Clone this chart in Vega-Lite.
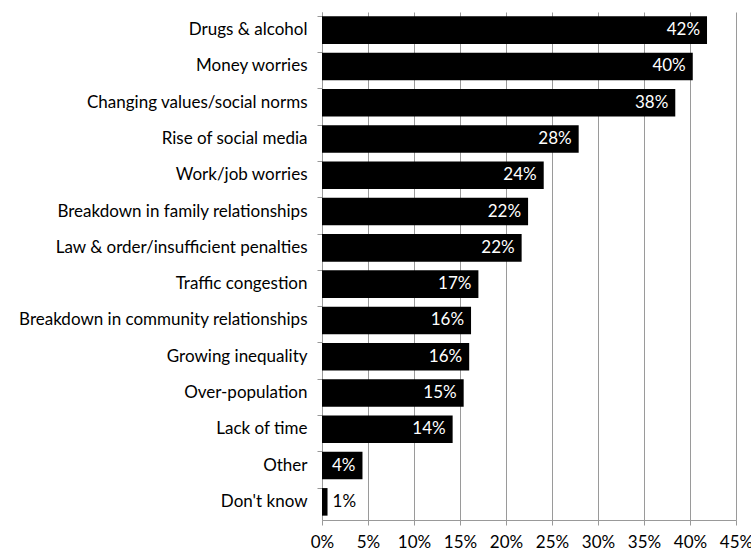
{
  "$schema": "https://vega.github.io/schema/vega-lite/v6.json",
  "autosize": {"type": "none"},
  "padding": {"left": 322, "top": 12, "right": 15, "bottom": 28},
  "width": 414,
  "height": 508,
  "background": "white",
  "config": {
    "view": {"stroke": null},
    "font": "Lato",
    "axis": {"labelFont": "Lato", "labelColor": "#000000", "labelFontSize": 17}
  },
  "data": {
    "values": [
      {"reason": "Drugs & alcohol", "value": 0.4185},
      {"reason": "Money worries", "value": 0.403},
      {"reason": "Changing values/social norms", "value": 0.384},
      {"reason": "Rise of social media", "value": 0.279},
      {"reason": "Work/job worries", "value": 0.241},
      {"reason": "Breakdown in family relationships", "value": 0.224},
      {"reason": "Law & order/insufficient penalties", "value": 0.217},
      {"reason": "Traffic congestion", "value": 0.170},
      {"reason": "Breakdown in community relationships", "value": 0.162},
      {"reason": "Growing inequality", "value": 0.160},
      {"reason": "Over-population", "value": 0.154},
      {"reason": "Lack of time", "value": 0.142},
      {"reason": "Other", "value": 0.044},
      {"reason": "Don't know", "value": 0.006}
    ]
  },
  "encoding": {
    "y": {
      "field": "reason", "type": "nominal", "sort": null, "title": null,
      "scale": {"paddingInner": 0.24, "paddingOuter": 0.12},
      "axis": {"bandPosition": 0, "tickSize": 5, "tickColor": "#999999", "domainColor": "#999999", "labelPadding": 10, "labelLimit": 0, "grid": false}
    },
    "x": {
      "field": "value", "type": "quantitative", "title": null,
      "scale": {"domain": [0, 0.45], "nice": false},
      "axis": {"format": ".0%", "values": [0, 0.05, 0.1, 0.15, 0.2, 0.25, 0.3, 0.35, 0.4, 0.45], "grid": true, "gridColor": "#9a9a9a", "gridOpacity": 1, "tickColor": "#999999", "tickSize": 5, "domainColor": "#999999", "labelPadding": 9, "labelFlush": false}
    }
  },
  "layer": [
    {"mark": {"type": "bar", "color": "#000000"}},
    {
      "transform": [{"filter": "datum.value >= 0.02"}],
      "mark": {"type": "text", "align": "right", "dx": -7, "color": "#ffffff", "fontSize": 17, "font": "Lato"},
      "encoding": {"text": {"field": "value", "format": ".0%"}}
    },
    {
      "transform": [{"filter": "datum.value < 0.02"}],
      "mark": {"type": "text", "align": "left", "dx": 5, "color": "#000000", "fontSize": 17, "font": "Lato"},
      "encoding": {"text": {"field": "value", "format": ".0%"}}
    }
  ]
}
